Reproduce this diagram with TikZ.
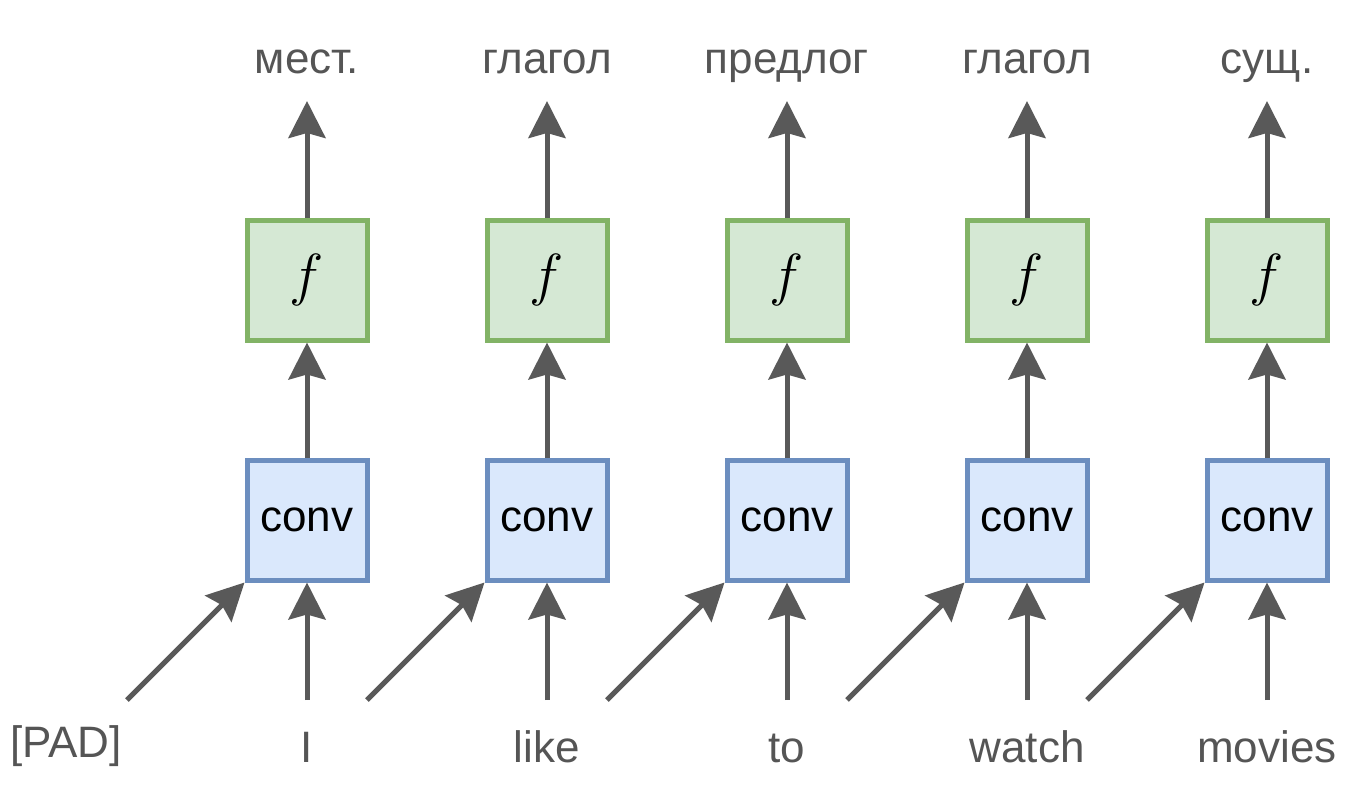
\RequirePackage{fix-cm}
\documentclass[tikz,border=0pt]{standalone}
\usepackage{fontspec}
\setmainfont{Liberation Sans}
\usetikzlibrary{arrows.meta}
\definecolor{arr}{HTML}{595959}
\definecolor{lbl}{HTML}{555555}
\definecolor{bfill}{HTML}{DAE8FC}
\definecolor{bdraw}{HTML}{6C8EBF}
\definecolor{gfill}{HTML}{D5E8D4}
\definecolor{gdraw}{HTML}{82B366}
\tikzset{
  convbox/.style={draw=bdraw, fill=bfill, line width=5pt, minimum size=120pt, inner sep=0pt,
    font=\fontsize{44}{52}\selectfont, text=black},
  fbox/.style={draw=gdraw, fill=gfill, line width=5pt, minimum size=120pt, inner sep=0pt,
    font=\fontsize{58}{68}\selectfont, text=black},
  lab/.style={anchor=base, inner sep=0pt, text=lbl, font=\fontsize{44}{52}\selectfont},
  conn/.style={draw=arr, line width=5pt, -{Stealth[length=37pt,width=37pt,inset=5pt]}},
}
\begin{document}
\begin{tikzpicture}[x=1pt,y=-1pt]
\useasboundingbox (0,0) rectangle (1347,798);
\node[lab] (w0) at (66,757) {[PAD]};
\foreach \i/\x/\top/\bot in {1/307/мест./I, 2/547/глагол/like, 3/787/предлог/to, 4/1027/глагол/watch, 5/1267/сущ./movies} {
  \node[convbox] (c\i) at (\x,520) {conv};
  \node[fbox] (f\i) at (\x,280) {$f$};
  \node[lab] (t\i) at (\x,73) {\top};
  \node[lab] (w\i) at (\x,762) {\bot};
  \coordinate (up\i) at (\x,101);
  \coordinate (b\i) at (\x,700);
  \coordinate (d\i) at (\x-180,700);
  \draw[conn] (b\i) -- (c\i.south);
  \draw[conn] (d\i) -- (c\i.south west);
  \draw[conn] (c\i.north) -- (f\i.south);
  \draw[conn] (f\i.north) -- (up\i);
}
\end{tikzpicture}
\end{document}
